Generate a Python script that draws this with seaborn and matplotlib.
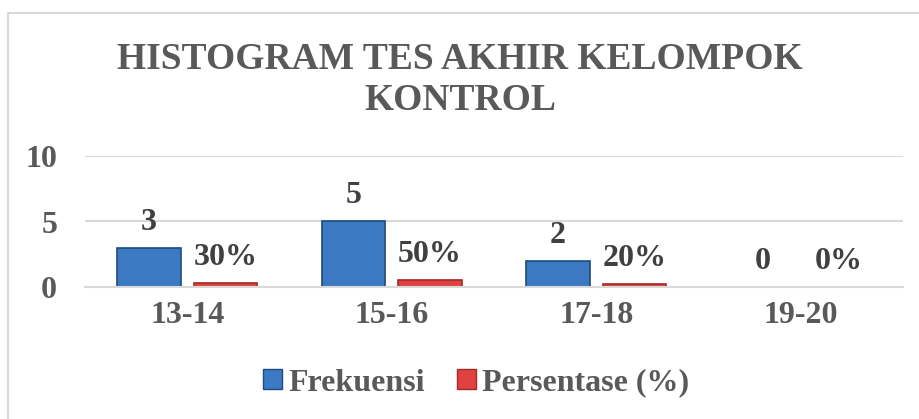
import matplotlib
matplotlib.use("Agg")
import matplotlib.pyplot as plt
import seaborn as sns
import pandas as pd
from matplotlib.lines import Line2D
from matplotlib.patches import Patch

categories = ["13-14", "15-16", "17-18", "19-20"]
frekuensi = [3, 5, 2, 0]
persentase = [0.3, 0.5, 0.2, 0.0]
persentase_labels = ["30%", "50%", "20%", "0%"]
series_names = ["Frekuensi", "Persentase (%)"]
y_ticks = [0, 5, 10]
title = "HISTOGRAM TES AKHIR KELOMPOK\nKONTROL"

sns.set_theme(style="white")
plt.rcParams["font.family"] = ["Liberation Serif", "DejaVu Serif"]
plt.rcParams["font.weight"] = "bold"

TEXT = "#595959"
BLUE = "#3B79C3"
BLUE_EDGE = "#1E4A82"
RED = "#E0423F"
RED_EDGE = "#A02A28"

df = pd.DataFrame({
    "Kategori": categories * 2,
    "Nilai": frekuensi + persentase,
    "Seri": [series_names[0]] * 4 + [series_names[1]] * 4,
})

W, H = 920, 419
fig = plt.figure(figsize=(W / 100, H / 100), dpi=100)
ax = fig.add_axes([85 / W, 1 - 287 / H, (903 - 85) / W, (287 - 156) / H])

sns.barplot(data=df, x="Kategori", y="Nilai", hue="Seri", order=categories,
            hue_order=series_names, palette=[BLUE, RED], width=0.75, gap=0.17,
            ax=ax, legend=False, linewidth=1.2, saturation=1)

for i, cont in enumerate(ax.containers):
    edge = BLUE_EDGE if i == 0 else RED_EDGE
    for p in cont:
        p.set_edgecolor(edge)
    labels = [str(v) for v in frekuensi] if i == 0 else persentase_labels
    ax.bar_label(cont, labels=labels, padding=8, fontsize=23, color="#404040",
                 fontweight="bold")

ax.set_ylim(0, 10)
ax.set_xlim(-0.5, len(categories) - 0.5)
ax.set_yticks(y_ticks)
ax.yaxis.grid(True, color="#D9D9D9", linewidth=1.5)
ax.set_axisbelow(True)
for s in ["top", "right", "left"]:
    ax.spines[s].set_visible(False)
ax.spines["bottom"].set_color("#D9D9D9")
ax.spines["bottom"].set_linewidth(1.5)
ax.set_xlabel("")
ax.set_ylabel("")
ax.tick_params(axis="y", length=0, pad=20, labelsize=23, labelcolor=TEXT)
ax.tick_params(axis="x", length=0, pad=10, labelsize=23, labelcolor=TEXT)
for t in ax.get_xticklabels() + ax.get_yticklabels():
    t.set_fontweight("bold")

fig.text(0.5, 1 - 80 / H, title, ha="center", va="center", fontsize=27,
         fontweight="bold", color=TEXT, linespacing=1.25)

handles = [Patch(facecolor=BLUE, edgecolor=BLUE_EDGE),
           Patch(facecolor=RED, edgecolor=RED_EDGE)]
leg = fig.legend(handles, series_names, loc="center", bbox_to_anchor=(476 / W, 1 - 383 / H),
                 ncol=2, frameon=False, handlelength=0.6, handleheight=0.6,
                 handletextpad=0.2, columnspacing=1.0,
                 prop={"size": 23, "weight": "bold"})
for t in leg.get_texts():
    t.set_color(TEXT)

# outer chart frame
fig.add_artist(Line2D([8 / W, 1], [1 - 13 / H, 1 - 13 / H], color="#D9D9D9", lw=1.5,
                      transform=fig.transFigure))
fig.add_artist(Line2D([8 / W, 8 / W], [0, 1 - 13 / H], color="#D9D9D9", lw=1.5,
                      transform=fig.transFigure))

fig.savefig("out.png", dpi=100)
